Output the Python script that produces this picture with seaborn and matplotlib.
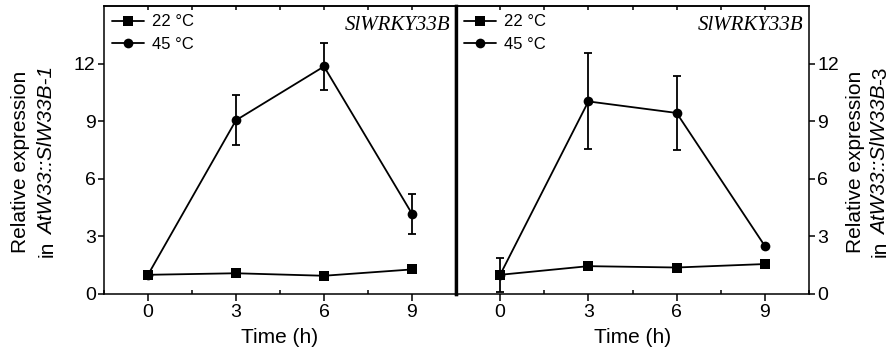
import numpy as np
import pandas as pd
import matplotlib
matplotlib.use("Agg")
import matplotlib.pyplot as plt
from matplotlib.ticker import MultipleLocator
import seaborn as sns

# data
time = [0, 3, 6, 9]
temps = ["22 \u00b0C", "45 \u00b0C"]

line1_22 = [1.0, 1.08, 0.95, 1.28]
line1_45 = [1.0, 9.05, 11.85, 4.18]
line1_45_err = [0.0, 1.3, 1.23, 1.05]

line3_22 = [1.0, 1.45, 1.38, 1.56]
line3_45 = [1.0, 10.03, 9.43, 2.5]
line3_45_err = [0.9, 2.5, 1.95, 0.0]

gene = "SlWRKY33B"

sns.set_theme(style="ticks")
plt.rcParams["font.family"] = ["Liberation Sans", "DejaVu Sans"]
plt.rcParams["axes.linewidth"] = 1.1
for k in ["text.color", "axes.labelcolor", "xtick.color", "ytick.color",
          "axes.edgecolor"]:
    plt.rcParams[k] = "black"

W, H = 892, 352
fig = plt.figure(figsize=(W / 100, H / 100), dpi=100)
ax1 = fig.add_axes([104 / W, 1 - 294 / H, 352 / W, 288 / H])
ax2 = fig.add_axes([456 / W, 1 - 294 / H, 353 / W, 288 / H])


def panel(ax, v22, v45, e45):
    df = pd.DataFrame({
        "time": time * 2,
        "value": v22 + v45,
        "temp": [temps[0]] * 4 + [temps[1]] * 4,
    })
    sns.lineplot(data=df, x="time", y="value", hue="temp", style="temp",
                 markers={temps[0]: "s", temps[1]: "o"}, dashes=False,
                 palette={temps[0]: "black", temps[1]: "black"},
                 markersize=7, linewidth=1.3, markeredgewidth=0, ax=ax)
    ax.errorbar(time, v45, yerr=e45, fmt="none", ecolor="black",
                elinewidth=1.3, capsize=3, capthick=1.3)
    handles, labels = ax.get_legend_handles_labels()
    ax.legend(handles, labels, loc="upper left", frameon=False, fontsize=12,
              handlelength=1.9, handletextpad=0.5, labelspacing=0.45,
              borderaxespad=0.3, borderpad=0.2)
    ax.text(0.985, 0.965, gene, transform=ax.transAxes, ha="right", va="top",
            fontsize=15, fontstyle="italic", family="Liberation Serif")
    ax.set_xlim(-1.5, 10.5)
    ax.set_ylim(0, 15)
    ax.set_xticks(time)
    ax.xaxis.set_minor_locator(MultipleLocator(1.5))
    ax.set_yticks([0, 3, 6, 9, 12])
    ax.tick_params(axis="x", which="major", direction="out", length=5,
                   width=1.1, labelsize=14, pad=2)
    ax.tick_params(axis="x", which="minor", direction="in", length=3, width=1.1)
    ax.tick_params(axis="y", which="major", direction="out", length=4,
                   width=1.1, labelsize=14, pad=2)
    ax.set_xlabel("Time (h)", fontsize=15, labelpad=5)
    ax.set_ylabel("")
    top = ax.secondary_xaxis("top")
    top.set_xticks(np.arange(0, 10.5, 1.5))
    top.tick_params(direction="in", length=3, width=1.1, labelsize=0)
    top.set_xticklabels([])
    for s in ax.spines.values():
        s.set_visible(True)
        s.set_color("black")


panel(ax1, line1_22, line1_45, line1_45_err)
panel(ax2, line3_22, line3_45, line3_45_err)

ax1.spines["right"].set_linewidth(2.4)
ax2.spines["left"].set_linewidth(2.4)
ax2.yaxis.tick_right()
ax2.tick_params(axis="y", which="both", left=False)

# two-line y labels with mixed upright / italic pieces
renderer = fig.canvas.get_renderer()


def text_width(s, style):
    t = fig.text(0, 0, s, fontsize=15, fontstyle=style)
    w = t.get_window_extent(renderer).width
    t.remove()
    return w


space_w = text_width("a a", "normal") - text_width("aa", "normal")


def vlabel(x_base, y_center, pieces):
    widths = []
    for s, st in pieces:
        w = text_width(s.strip(), st)
        if s.endswith(" "):
            w += space_w
        widths.append(w)
    y = y_center + sum(widths) / 2
    for (s, st), w in zip(pieces, widths):
        fig.text(x_base / W, 1 - y / H, s.strip(), fontsize=15, fontstyle=st,
                 rotation=90, rotation_mode="anchor", ha="left", va="baseline")
        y -= w


vlabel(26, 162, [("Relative expression", "normal")])
vlabel(53, 162, [("in ", "normal"), ("AtW33::SlW33B-1", "italic")])
vlabel(861, 162, [("Relative expression", "normal")])
vlabel(886, 162, [("in ", "normal"), ("AtW33::SlW33B", "italic"), ("-3", "normal")])

fig.savefig("out.png", dpi=100)
